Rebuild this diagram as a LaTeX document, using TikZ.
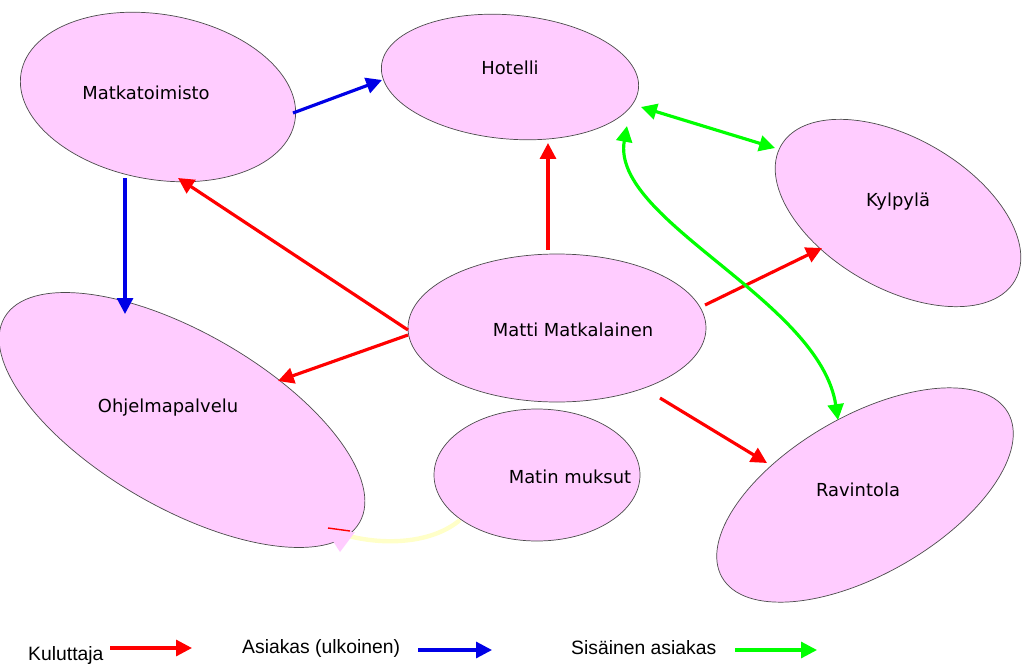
\documentclass[tikz,border=0pt]{standalone}
\usepackage{fontspec}
\setmainfont{DejaVu Sans}
\newfontfamily\legfont{Liberation Sans}
\usetikzlibrary{shapes.geometric,arrows.meta}
\definecolor{pinkfill}{RGB}{255,204,255}
\definecolor{myred}{RGB}{255,0,0}
\definecolor{myblue}{RGB}{0,0,230}
\definecolor{mygreen}{RGB}{0,255,0}
\definecolor{paleyel}{RGB}{255,255,200}
\tikzset{
 blob/.style={ellipse,draw=black!70,line width=0.4pt,fill=pinkfill,inner sep=0pt},
 lbl/.style={font=\fontsize{10.2}{12}\selectfont},
 arr/.style={line width=1.8pt,-{Triangle[length=9pt,width=9pt]}},
 darr/.style={line width=1.8pt,{Triangle[length=9pt,width=9pt]}-{Triangle[length=9pt,width=9pt]}},
 leg/.style={font=\legfont\fontsize{11}{13}\selectfont,anchor=west}
}
\begin{document}
\begin{tikzpicture}[x=0.02cm,y=-0.02cm]
\useasboundingbox (0,0) rectangle (1024,666);
\node[blob,minimum width=278*0.02cm,minimum height=165*0.02cm,rotate=-10] (mk) at (158,97) {};
\node[lbl] at (146,93) {Matkatoimisto};
\node[blob,minimum width=258*0.02cm,minimum height=124*0.02cm,rotate=-5] (ho) at (510,77) {};
\node[lbl] at (510,68) {Hotelli};
\node[blob,minimum width=270*0.02cm,minimum height=150*0.02cm,rotate=-30] (ky) at (898,213) {};
\node[lbl] at (898,202) {Kylpylä};
\node[blob,minimum width=298*0.02cm,minimum height=148*0.02cm] (mm) at (557,328) {};
\node[lbl] at (573,330) {Matti Matkalainen};
\node[blob,minimum width=410*0.02cm,minimum height=175*0.02cm,rotate=-30] (oh) at (182,420) {};
\node[lbl] at (168,408) {Ohjelmapalvelu};
\node[blob,minimum width=206*0.02cm,minimum height=132*0.02cm] (mu) at (537,475) {};
\node[lbl] at (570,477) {Matin muksut};
\node[blob,minimum width=330*0.02cm,minimum height=158*0.02cm,rotate=30] (ra) at (865,495) {};
\node[lbl] at (858,490) {Ravintola};

% endpoints
\coordinate (a1) at (293,113); \coordinate (a2) at (382,80);
\coordinate (b1) at (125,178); \coordinate (b2) at (125,314);
\coordinate (c1) at (408,330); \coordinate (c2) at (178,178);
\coordinate (d1) at (408,335); \coordinate (d2) at (278,381);
\coordinate (e1) at (548,250); \coordinate (e2) at (548,143);
\coordinate (f1) at (705,305); \coordinate (f2) at (822,248);
\coordinate (g1) at (660,398); \coordinate (g2) at (767,463);
\coordinate (h1) at (641,107); \coordinate (h2) at (775,148);
\coordinate (i1) at (627,126); \coordinate (i2) at (838,420);
\coordinate (j1) at (460,520); \coordinate (j2) at (338,550);

\draw[arr,myblue] (a1) -- (a2);
\draw[arr,myblue] (b1) -- (b2);
\draw[arr,myred] (c1) -- (c2);
\draw[arr,myred] (d1) -- (d2);
\draw[arr,myred] (e1) -- (e2);
\draw[arr,myred] (f1) -- (f2);
\draw[arr,myred] (g1) -- (g2);
\draw[darr,mygreen] (h1) -- (h2);
\draw[darr,mygreen] (i1) .. controls (610,220) and (820,300) .. (i2);
\draw[line width=2.5pt,paleyel] (j1) .. controls (430,545) and (380,545) .. (345,535);
\draw[myred,line width=0.8pt] (328,528) -- (350,531);
\fill[pinkfill] (327,532) -- (355,532) -- (340,552) -- cycle;

% legend
\node[leg] (l1) at (22,655) {Kuluttaja};
\coordinate (l1a) at (110,648); \coordinate (l1b) at (192,648);
\draw[arr,myred] (l1a) -- (l1b);
\node[leg] (l2) at (236,648) {Asiakas (ulkoinen)};
\coordinate (l2a) at (418,650); \coordinate (l2b) at (492,650);
\draw[arr,myblue] (l2a) -- (l2b);
\node[leg] (l3) at (565,648) {Sisäinen asiakas};
\coordinate (l3a) at (735,650); \coordinate (l3b) at (817,650);
\draw[arr,mygreen] (l3a) -- (l3b);
\end{tikzpicture}
\end{document}
